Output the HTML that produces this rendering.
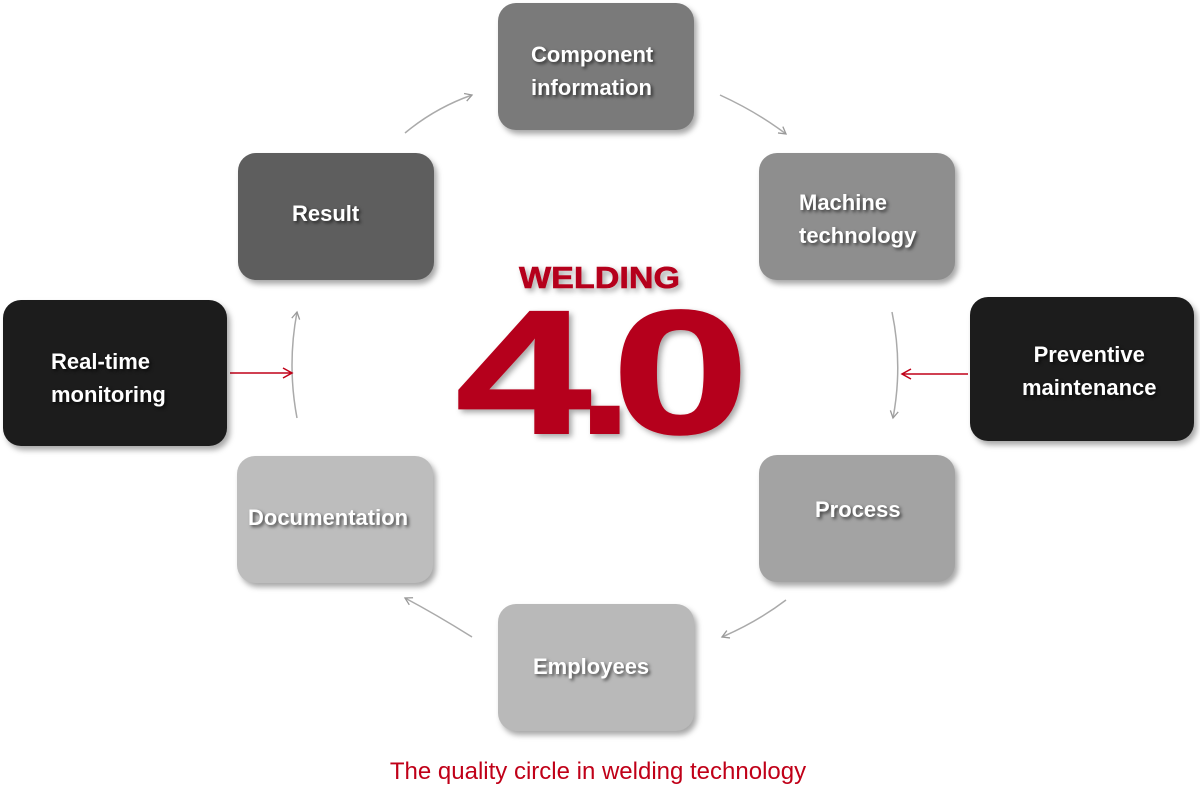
<!DOCTYPE html>
<html><head><style>
body{margin:0;width:1200px;height:802px;background:#fff;position:relative;overflow:hidden;font-family:"Liberation Sans",sans-serif}
.b{position:absolute;border-radius:18px;box-shadow:3px 4px 6px rgba(0,0,0,.35)}
.t{position:absolute;color:#fff;font-weight:bold;font-size:22px;line-height:33px;text-shadow:2px 2px 3px rgba(0,0,0,.6);white-space:nowrap}
</style></head><body>
<svg width="1200" height="802" style="position:absolute;left:0;top:0">
<defs>
<marker id="g" markerWidth="10" markerHeight="10" refX="8" refY="5" orient="auto" markerUnits="userSpaceOnUse"><path d="M1,1 L8,5 L1,9" fill="none" stroke="#999" stroke-width="1.3"/></marker>
<marker id="r" markerWidth="12" markerHeight="12" refX="10" refY="6" orient="auto" markerUnits="userSpaceOnUse"><path d="M1,1 L10,6 L1,11" fill="none" stroke="#c00018" stroke-width="1.5"/></marker>
<filter id="sh" x="-10%" y="-10%" width="130%" height="130%"><feDropShadow dx="3" dy="3" stdDeviation="3" flood-color="#000" flood-opacity="0.35"/></filter>
</defs>
<g fill="none" stroke="#aaa" stroke-width="1.5">
<path d="M405,133 Q435,108 472,95" marker-end="url(#g)"/>
<path d="M720,95 Q757,112 786,134" marker-end="url(#g)"/>
<path d="M892,312 Q903,365 893,418" marker-end="url(#g)"/>
<path d="M786,600 Q757,622 722,637" marker-end="url(#g)"/>
<path d="M472,637 Q437,615 405,598" marker-end="url(#g)"/>
<path d="M297,418 Q287,365 297,312" marker-end="url(#g)"/>
</g>
<path d="M230,373 L292,373" stroke="#c00018" stroke-width="1.5" marker-end="url(#r)"/>
<path d="M968,374 L902,374" stroke="#c00018" stroke-width="1.5" marker-end="url(#r)"/>
<g font-family="Liberation Sans" font-weight="bold" fill="#b5001b" stroke="#b5001b" filter="url(#sh)">
<text transform="translate(519,288) scale(1.1,1)" font-size="31" stroke-width="0.6">WELDING</text>
<text transform="translate(456,433) scale(1.38,1)" font-size="176" stroke-width="2">4</text>
<text transform="translate(578,433) scale(1.1,1)" font-size="176" stroke-width="2">.</text>
<text transform="translate(612,433) scale(1.4,1)" font-size="176" stroke-width="2">0</text>
</g>
</svg>
<div class="b" style="left:498px;top:3px;width:196px;height:127px;background:#7a7a7a"></div>
<div class="t" style="left:531px;top:38px">Component<br>information</div>
<div class="b" style="left:238px;top:153px;width:196px;height:127px;background:#5e5e5e"></div>
<div class="t" style="left:292px;top:197px">Result</div>
<div class="b" style="left:759px;top:153px;width:196px;height:127px;background:#8e8e8e"></div>
<div class="t" style="left:799px;top:186px">Machine<br>technology</div>
<div class="b" style="left:3px;top:300px;width:224px;height:146px;background:#1c1c1c"></div>
<div class="t" style="left:51px;top:345px">Real-time<br>monitoring</div>
<div class="b" style="left:970px;top:297px;width:224px;height:144px;background:#1c1c1c"></div>
<div class="t" style="left:1022px;top:338px;text-align:center">Preventive<br>maintenance</div>
<div class="b" style="left:237px;top:456px;width:196px;height:127px;background:#bdbdbd"></div>
<div class="t" style="left:248px;top:501px">Documentation</div>
<div class="b" style="left:759px;top:455px;width:196px;height:127px;background:#a3a3a3"></div>
<div class="t" style="left:815px;top:493px">Process</div>
<div class="b" style="left:498px;top:604px;width:196px;height:127px;background:#b9b9b9"></div>
<div class="t" style="left:533px;top:650px">Employees</div>
<div style="position:absolute;left:0;width:1200px;top:758px;text-align:center;color:#c00018;font-size:24px"><span style="position:relative;left:-2px">The quality circle in welding technology</span></div>
</body></html>
